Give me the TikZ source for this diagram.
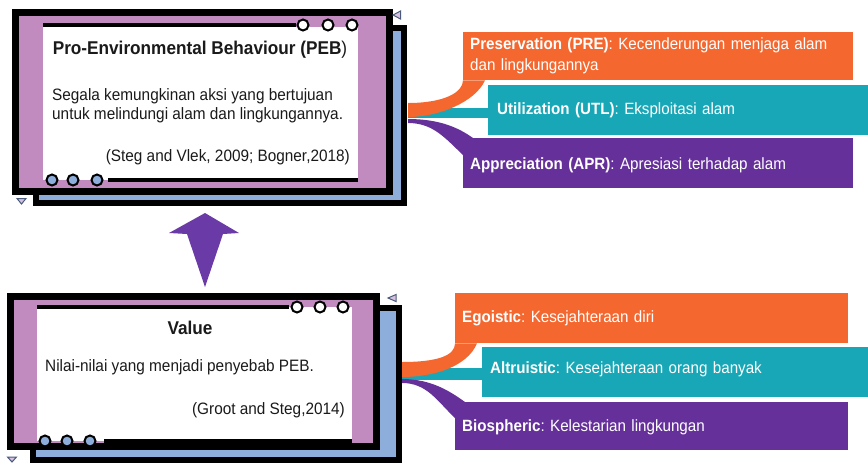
\documentclass[tikz,border=0pt]{standalone}
\usepackage{fontspec}
\setmainfont{Liberation Sans}[FakeStretch=0.93]
\usetikzlibrary{calc}
\definecolor{pinkc}{HTML}{C28BC0}
\definecolor{bluec}{HTML}{8DADDA}
\definecolor{orangec}{HTML}{F46830}
\definecolor{tealc}{HTML}{18A7B6}
\definecolor{purplec}{HTML}{66309A}
\definecolor{arrowc}{HTML}{6A3AA6}
\definecolor{trifill}{HTML}{D8C0E0}
\definecolor{triline}{HTML}{4A5A7A}
\definecolor{ink}{HTML}{1A1A1A}
\frenchspacing
\begin{document}
\begin{tikzpicture}[x=1pt,y=-1pt,
  backframe/.style={draw=black,line width=6,fill=bluec},
  frontframe/.style={draw=black,line width=7,fill=pinkc},
  whitearea/.style={fill=white,inner sep=0,anchor=north west},
  bar/.style={line width=4.5,black},
  dot/.style={draw=black,line width=2,fill=white},
  bdot/.style={draw=black,line width=2,fill=bluec},
  tri/.style={draw=triline,line width=1,fill=trifill},
  titletxt/.style={font=\fontsize{18.5}{22}\selectfont\bfseries,text=ink,inner sep=0},
  bodytxt/.style={font=\fontsize{16.5}{19}\selectfont,text=ink,inner sep=0,align=left},
  boxtxt/.style={font=\fontsize{16.3}{21}\selectfont,text=white,align=left,anchor=north west,inner xsep=7,inner ysep=0,text width=#1},
  boxtxt/.default=376
]
\useasboundingbox (0,0) rectangle (868,464);

% ---------------- top frame (PEB) ----------------
\draw[backframe] (36,28) rectangle (404,203);
\draw[frontframe] (15.5,12.5) rectangle (389.5,191.5);
\node[whitearea,minimum width=315,minimum height=153] (pebw) at (43,27) {};
\draw[bar] (43,25) -- (296,25);
\draw[dot] (303,25) circle (5.5);
\draw[dot] (328,25) circle (5.5);
\draw[dot] (352,25) circle (5.5);
\draw[bar] (108,180) -- (358,180);
\draw[bdot] (52,180) circle (5.5);
\draw[bdot] (73,180) circle (5.5);
\draw[bdot] (97,180) circle (5.5);
\draw[tri] (400.5,11) -- (393,15) -- (400.5,19) -- cycle;
\draw[tri] (17,198.5) -- (26,198.5) -- (21.5,204) -- cycle;
\coordinate (pebR) at (408,112);

\node[titletxt] (pebtitle) at (200,50) {Pro-Environmental Behaviour (PEB\mdseries)};
\node[bodytxt,anchor=west] (pebbody) at (52,106) {Segala kemungkinan aksi yang bertujuan\\untuk melindungi alam dan lingkungannya.};
\node[bodytxt,anchor=east] (pebcite) at (350,157) {(Steg and Vlek, 2009; Bogner,2018)};

% ---------------- bottom frame (Value) ----------------
\draw[backframe] (33,308) rectangle (399,460);
\draw[frontframe] (10.5,296.5) rectangle (376.5,446.5);
\node[whitearea,minimum width=315,minimum height=134] (valw) at (37,307) {};
\draw[bar] (37,307) -- (289,307);
\draw[dot] (297,307) circle (5.5);
\draw[dot] (320,307) circle (5.5);
\draw[dot] (343,307) circle (5.5);
\draw[bar] (104,441) -- (352,441);
\draw[bdot] (45,441) circle (5.5);
\draw[bdot] (67,441) circle (5.5);
\draw[bdot] (90,441) circle (5.5);
\draw[tri] (396,294.5) -- (388,298) -- (396,301.5) -- cycle;
\draw[tri] (7.5,457) -- (16.5,457) -- (12,462) -- cycle;
\coordinate (valR) at (402,372);

\node[titletxt] (valtitle) at (190,328) {Value};
\node[bodytxt,anchor=west] (valbody) at (45,367) {Nilai-nilai yang menjadi penyebab PEB.};
\node[bodytxt,anchor=east] (valcite) at (345,410) {(Groot and Steg,2014)};

% ---------------- arrow Value -> PEB ----------------
\coordinate (tip) at (205,213);
\fill[arrowc] (tip) -- ($(tip)+(34,20)$) -- ($(tip)+(18,21)$) -- ($(tip)+(0,74)$) -- ($(tip)+(-18,21)$) -- ($(tip)+(-36,20)$) -- cycle;

% ---------------- right boxes (top) ----------------
\node[fill=orangec,minimum width=390,minimum height=48,anchor=north west,inner sep=0] (pre) at (463,32) {};
\node[boxtxt] at ($(pre.north west)+(0,5)$) {\textbf{Preservation (PRE)}: Kecenderungan menjaga alam\\dan lingkungannya};
\node[fill=tealc,minimum width=380,minimum height=50,anchor=north west,inner sep=0] (utl) at (488,85) {};
\node[boxtxt,anchor=west] at ($(utl.west)+(2,0)$) {\textbf{Utilization (UTL)}: Eksploitasi alam};
\node[fill=purplec,minimum width=390,minimum height=50,anchor=north west,inner sep=0] (apr) at (463,138) {};
\node[boxtxt,anchor=west] at ($(apr.west)+(0,2)$) {\textbf{Appreciation (APR)}: Apresiasi terhadap alam};

% connectors (top)
\fill[tealc] ($(pebR)+(0,-4)$) rectangle ($(utl.west)+(0,8)$);
\fill[purplec] ($(pebR)+(0,7)$) .. controls +(32,0) and +(-14,-10) .. ($(apr.north west)+(10,0)$) -- (apr.north west) -- ($(apr.north west)+(0,17)$) .. controls +(-18,-17) and +(25,0) .. ($(pebR)+(0,11)$) -- cycle;
\fill[orangec] ($(pebR)+(0,-9)$) .. controls +(36,0) and +(0,12) .. (pre.south west) -- ($(pre.south west)+(22,0)$) .. controls +(-10,22) and +(30,0) .. ($(pebR)+(0,5)$) -- cycle;

% ---------------- right boxes (bottom) ----------------
\node[fill=orangec,minimum width=393,minimum height=50,anchor=north west,inner sep=0] (ego) at (455,293) {};
\node[boxtxt,anchor=west] at ($(ego.west)+(0,0)$) {\textbf{Egoistic}: Kesejahteraan diri};
\node[fill=tealc,minimum width=386,minimum height=50,anchor=north west,inner sep=0] (alt) at (482,347) {};
\node[boxtxt,anchor=west] at ($(alt.west)+(1,-3)$) {\textbf{Altruistic}: Kesejahteraan orang banyak};
\node[fill=purplec,minimum width=393,minimum height=48,anchor=north west,inner sep=0] (bio) at (455,402) {};
\node[boxtxt,anchor=west] at ($(bio.west)+(0,1)$) {\textbf{Biospheric}: Kelestarian lingkungan};

% connectors (bottom)
\fill[tealc] ($(valR)+(0,-4)$) rectangle ($(alt.west)+(0,8)$);
\fill[purplec] ($(valR)+(0,7)$) .. controls +(30,0) and +(-14,-10) .. ($(bio.north west)+(10,0)$) -- (bio.north west) -- ($(bio.north west)+(0,16)$) .. controls +(-18,-17) and +(25,0) .. ($(valR)+(0,11)$) -- cycle;
\fill[orangec] ($(valR)+(0,-10)$) .. controls +(36,0) and +(0,12) .. (ego.south west) -- ($(ego.south west)+(22,0)$) .. controls +(-10,24) and +(30,0) .. ($(valR)+(0,5)$) -- cycle;
\end{tikzpicture}
\end{document}
